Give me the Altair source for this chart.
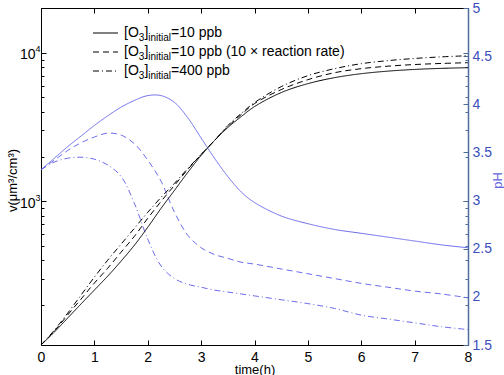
import altair as alt
import pandas as pd

# ---- data -------------------------------------------------------------
time_h = [0, 0.25, 0.5, 0.75, 1.0, 1.25, 1.5, 1.75, 2.0, 2.25, 2.5, 2.75, 3.0,
          3.25, 3.5, 3.75, 4.0, 4.5, 5.0, 5.5, 6.0, 6.5, 7.0, 7.5, 8.0]

# particle volume v (um^3/cm^3)
v_10ppb = [108, 132, 164, 204, 253, 314, 396, 507, 669, 898, 1185, 1566, 2036,
           2566, 3138, 3717, 4341, 5393, 6194, 6797, 7227, 7520, 7720, 7850, 7930]
v_10ppb_fast = [108, 134, 172, 220, 282, 355, 455, 582, 769, 1000, 1280, 1640, 2067,
                2566, 3186, 3834, 4548, 5649, 6588, 7339, 7813, 8120, 8330, 8470, 8570]
v_400ppb = [108, 136, 177, 234, 309, 402, 515, 659, 844, 1064, 1321, 1664, 2067,
            2566, 3236, 3899, 4616, 5912, 7010, 7813, 8440, 8850, 9150, 9380, 9550]

# droplet pH
ph_10ppb = [3.32, 3.44, 3.56, 3.67, 3.78, 3.88, 3.97, 4.04, 4.09, 4.09, 4.02, 3.86, 3.65,
            3.44, 3.25, 3.09, 2.98, 2.84, 2.76, 2.70, 2.66, 2.62, 2.58, 2.54, 2.51]
ph_10ppb_fast = [3.32, 3.42, 3.52, 3.60, 3.66, 3.70, 3.68, 3.59, 3.42, 3.20, 2.88, 2.64, 2.51,
                 2.44, 2.40, 2.36, 2.34, 2.29, 2.24, 2.19, 2.14, 2.10, 2.06, 2.03, 1.99]
ph_400ppb = [3.32, 3.40, 3.44, 3.45, 3.43, 3.37, 3.25, 2.97, 2.60, 2.32, 2.19, 2.13, 2.10,
             2.07, 2.05, 2.03, 2.01, 1.97, 1.93, 1.88, 1.81, 1.77, 1.73, 1.69, 1.66]

series = ["10 ppb", "10 ppb fast", "400 ppb"]
legend_tails = ["=10 ppb", "=10 ppb (10 \u00d7 reaction rate)", "=400 ppb"]

hours = [0, 1, 2, 3, 4, 5, 6, 7, 8]
ph_ticks = [1.5, 2, 2.5, 3, 3.5, 4, 4.5, 5]
v_major = [1000, 10000]
v_minor = [200, 300, 400, 500, 600, 700, 800, 900,
           2000, 3000, 4000, 5000, 6000, 7000, 8000, 9000, 20000]

rows = []
for name, vs, ps in zip(series, [v_10ppb, v_10ppb_fast, v_400ppb],
                        [ph_10ppb, ph_10ppb_fast, ph_400ppb]):
    for t, v, p in zip(time_h, vs, ps):
        rows.append({"series": name, "time": t, "v": v, "pH": p})
df = pd.DataFrame(rows)

# ---- styling ----------------------------------------------------------
FONT = "Liberation Sans"
CURVE_BLUE = "#6c6cec"
AXIS_BLUE = "#4d6d9d"
LABEL_BLUE = "#3c4fbf"
TITLE_BLUE = "#6464e0"
SMOOTH = "catmull-rom"

x_scale = alt.Scale(domain=[0, 8], nice=False)
v_scale = alt.Scale(type="log", domain=[108, 20000], nice=False)
ph_scale = alt.Scale(domain=[1.5, 5], nice=False, zero=False)
dash = alt.StrokeDash("series:N",
                      scale=alt.Scale(domain=series, range=[[1, 0], [6, 4], [6, 3, 1, 3]]),
                      legend=None)

base = alt.Chart(df)


def tick_axis(orient, values, size, color="black"):
    # inward-pointing ticks: shift the axis into the plot by the tick length
    return alt.Axis(orient=orient, values=values, tickSize=size, offset=-size,
                    labels=False, domain=False, grid=False, ticks=True,
                    tickColor=color, tickWidth=1, title=None)


ph_lines = base.mark_line(color=CURVE_BLUE, strokeWidth=1, interpolate=SMOOTH).encode(
    x=alt.X("time:Q", scale=x_scale, axis=None),
    y=alt.Y("pH:Q", scale=ph_scale,
            axis=alt.Axis(orient="right", values=ph_ticks, format="~g", ticks=False,
                          grid=False, domain=True, domainColor=AXIS_BLUE, domainWidth=1.5,
                          labelPadding=4, labelFont=FONT, labelFontSize=14,
                          labelColor=LABEL_BLUE, labelOverlap=False,
                          title="pH", titleFont=FONT, titleFontSize=13,
                          titleFontWeight="normal", titleColor=TITLE_BLUE,
                          titleAngle=270, titleX=29, titleY=172,
                          titleAlign="center", titleBaseline="middle")),
    strokeDash=dash,
)

v_lines = base.mark_line(color="black", strokeWidth=1, interpolate=SMOOTH).encode(
    x=alt.X("time:Q", scale=x_scale,
            axis=alt.Axis(orient="bottom", values=hours, ticks=False, domain=False,
                          grid=False, labelPadding=5, labelFlush=False,
                          labelOverlap=False, labelFont=FONT, labelFontSize=14,
                          labelColor="black", title="time(h)", titleFont=FONT,
                          titleFontSize=13, titleFontWeight="normal",
                          titleColor="black", titleY=18.5, titleBaseline="top")),
    y=alt.Y("v:Q", scale=v_scale,
            axis=alt.Axis(orient="left", values=v_major, labelExpr="'10'",
                          ticks=False, domain=False, grid=False, labelPadding=6,
                          labelOffset=2, labelFont=FONT, labelFontSize=14,
                          labelColor="black", labelOverlap=False,
                          title="v(\u03bcm\u00b3/cm\u00b3)", titleFont=FONT,
                          titleFontSize=13, titleFontWeight="normal",
                          titleColor="black", titleAngle=270, titleX=-29,
                          titleY=172, titleAlign="center", titleBaseline="middle")),
    strokeDash=dash,
)

# decade exponents set as small raised labels beside the "10"
v_exponents = base.mark_line(opacity=0).encode(
    x=alt.X("time:Q", scale=x_scale, axis=None),
    y=alt.Y("v:Q", scale=v_scale,
            axis=alt.Axis(orient="left", values=v_major,
                          labelExpr="datum.value >= 5000 ? '4' : '3'",
                          ticks=False, domain=False, grid=False, labelPadding=6,
                          labelAlign="left", labelOffset=-4, labelFont=FONT,
                          labelFontSize=9, labelColor="black", labelOverlap=False,
                          title=None)),
)

ticks_left_major = base.mark_line(opacity=0).encode(
    x=alt.X("time:Q", scale=x_scale, axis=tick_axis("bottom", hours, 5)),
    y=alt.Y("v:Q", scale=v_scale, axis=tick_axis("left", v_major, 5)),
)
ticks_left_minor = base.mark_line(opacity=0).encode(
    x=alt.X("time:Q", scale=x_scale, axis=tick_axis("top", hours, 5)),
    y=alt.Y("v:Q", scale=v_scale, axis=tick_axis("left", v_minor, 3)),
)
ticks_right_major = base.mark_line(opacity=0).encode(
    x=alt.X("time:Q", scale=x_scale, axis=None),
    y=alt.Y("v:Q", scale=v_scale, axis=tick_axis("right", v_major, 5, AXIS_BLUE)),
)
ticks_right_minor = base.mark_line(opacity=0).encode(
    x=alt.X("time:Q", scale=x_scale, axis=None),
    y=alt.Y("v:Q", scale=v_scale, axis=tick_axis("right", v_minor, 3, AXIS_BLUE)),
)
ticks_ph = base.mark_line(opacity=0).encode(
    x=alt.X("time:Q", scale=x_scale, axis=None),
    y=alt.Y("pH:Q", scale=ph_scale, axis=tick_axis("right", ph_ticks, 5, AXIS_BLUE)),
)

# ---- legend (top-left, no frame) -------------------------------------
legend_df = pd.DataFrame({"entry": [0, 1, 2], "series": series, "tail": legend_tails})
leg = alt.Chart(legend_df).transform_calculate(py="25 + 19 * datum.entry")
leg_y = alt.Y("py:Q", scale=None)

leg_lines = leg.mark_rule(color="black", strokeWidth=1).encode(
    x=alt.value(52), x2=alt.value(77), y=leg_y, strokeDash=dash)


def leg_text(text, x, size, dy=0):
    return leg.mark_text(align="left", baseline="middle", font=FONT, fontSize=size,
                         dy=dy, color="black").encode(x=alt.value(x), y=leg_y, text=text)


leg_parts = [
    leg_text(alt.value("[O"), 83, 14),
    leg_text(alt.value("3"), 97.8, 10, 5),
    leg_text(alt.value("]"), 103.4, 14),
    leg_text(alt.value("initial"), 107.3, 10, 5),
    leg_text(alt.Text("tail:N"), 130, 14),
]

chart = alt.layer(
    ph_lines, v_lines, v_exponents,
    ticks_left_major, ticks_left_minor, ticks_right_major, ticks_right_minor, ticks_ph,
    leg_lines, *leg_parts,
).resolve_scale(
    y="independent"
).resolve_axis(
    x="independent", y="independent"
).properties(
    width=427, height=337,
    autosize=alt.AutoSizeParams(type="none"),
    padding={"left": 41, "top": 8, "right": 36, "bottom": 30},
    background="white",
).configure_view(
    stroke="black", strokeWidth=1
)

chart.save("out.html", embed_options={"renderer": "svg", "actions": False})
